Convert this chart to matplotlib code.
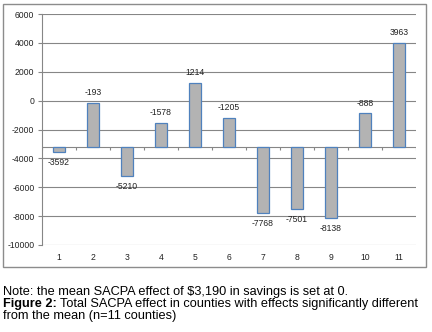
import matplotlib
matplotlib.use("Agg")
import matplotlib.pyplot as plt
from matplotlib.patches import Rectangle
import numpy as np

plt.rcParams['font.family'] = ['Liberation Sans', 'DejaVu Sans']

counties = ['1', '2', '3', '4', '5', '6', '7', '8', '9', '10', '11']
effects = [-3592, -193, -5210, -1578, 1214, -1205, -7768, -7501, -8138, -888, 3963]
baseline = -3190
yticks = [-10000, -8000, -6000, -4000, -2000, 0, 2000, 4000, 6000]

fig = plt.figure(figsize=(4.32, 3.32), dpi=100)
ax = fig.add_axes([42/432, 1-245/332, (416-42)/432, (245-14)/332])

x = np.arange(1, len(counties)+1)
vals = np.array(effects)
ax.bar(x, vals - baseline, bottom=baseline, width=0.38, color='#b3b3b3',
       edgecolor='#4f81bd', linewidth=0.9, zorder=3)

FS = 6.2
for xi, v in zip(x, vals):
    off = 7.5 if v > baseline else -7.5
    ax.annotate(str(v), (xi, v), xytext=(0, off), textcoords='offset points',
                ha='center', va='center', fontsize=FS, color='#222222', zorder=4)

ax.set_xlim(0.5, len(counties)+0.5)
ax.set_ylim(-10000, 6000)
ax.set_yticks(yticks)
ax.set_yticklabels([str(t) for t in yticks], fontsize=FS, color='#222222')
ax.set_xticks(x)
ax.set_xticklabels(counties, fontsize=FS, color='#222222')
ax.tick_params(axis='x', length=0, pad=6)
ax.tick_params(axis='y', length=3, width=0.8, color='#868686', pad=2.5)
ax.yaxis.grid(True, color='#868686', linewidth=0.8, zorder=0)
ax.set_axisbelow(True)
for s in ['top', 'right', 'bottom']:
    ax.spines[s].set_visible(False)
ax.spines['left'].set_color('#868686')
ax.spines['left'].set_linewidth(0.8)

# category axis line at the baseline with boundary tick marks
ax.axhline(baseline, color='#868686', linewidth=0.8, zorder=2)
bounds = np.arange(0.5, len(counties)+1, 1.0)
ax.vlines(bounds, baseline - 230, baseline, color='#868686', linewidth=0.8, zorder=2)

fig.add_artist(Rectangle((3/432, 1-267/332), (426-3)/432, (267-4)/332,
                         transform=fig.transFigure, fill=False,
                         edgecolor='#8c8c8c', linewidth=1.0))

TF = 9.2
fig.text(3/432, 1-295.5/332, 'Note: the mean SACPA effect of $3,190 in savings is set at 0.',
         fontsize=TF, va='baseline', ha='left', color='black')
t = fig.text(3/432, 1-307/332, 'Figure 2:', fontsize=TF, va='baseline', ha='left',
             fontweight='bold', color='black')
fig.text(3/432, 1-318.5/332, 'from the mean (n=11 counties)', fontsize=TF, va='baseline', ha='left')

fig.canvas.draw()
bb = t.get_window_extent(fig.canvas.get_renderer())
fig.text((bb.x1 + 3)/432, 1-307/332,
         'Total SACPA effect in counties with effects significantly different',
         fontsize=TF, va='baseline', ha='left')

fig.savefig('out.png', dpi=100)
